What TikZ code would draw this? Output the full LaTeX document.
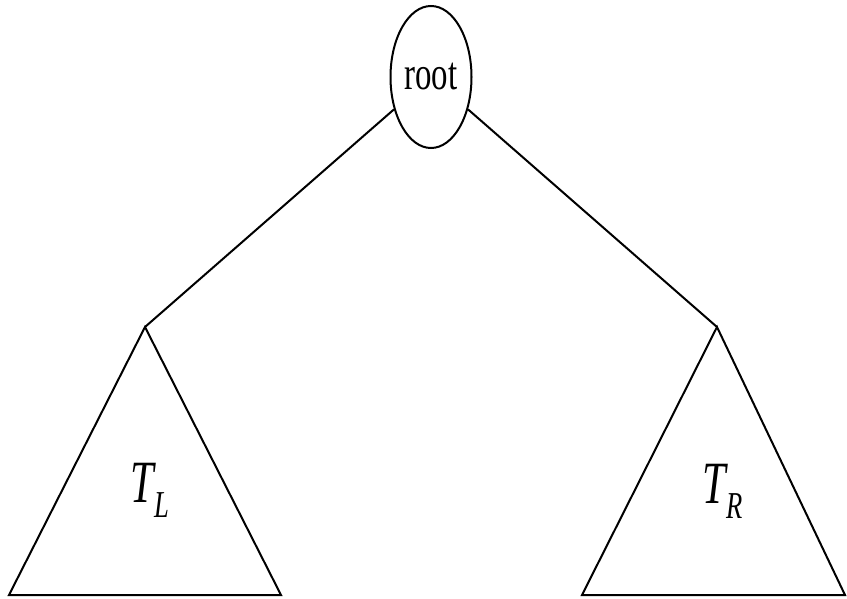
\documentclass[tikz,border=0pt]{standalone}
\usepackage{fontspec}
\setmainfont{Liberation Serif}
\usetikzlibrary{shapes.geometric}
\tikzset{
  edge/.style={line width=2pt, line join=miter},
  rootnode/.style={draw, ellipse, line width=2pt, minimum width=81pt, minimum height=142pt, inner sep=0pt},
  sublabel/.style={inner sep=0pt, anchor=base west}
}
\newcommand{\subT}[1]{\scalebox{0.7}[1]{\fontsize{60}{60}\selectfont\itshape T\kern0.02em\raisebox{-0.26em}{\fontsize{38}{38}\selectfont #1}}}
\begin{document}
\begin{tikzpicture}[x=1pt,y=-1pt]
\useasboundingbox (0,0) rectangle (847,599);
\node[rootnode] (root) at (431,77) {\scalebox{0.7}[1]{\fontsize{47}{47}\selectfont root}};
\coordinate (lA) at (145,327);
\coordinate (lB1) at (9,595);
\coordinate (lB2) at (281,595);
\coordinate (rA) at (717,327);
\coordinate (rB1) at (582,595);
\coordinate (rB2) at (845,595);
\draw[edge] (root) -- (lA);
\draw[edge] (root) -- (rA);
\draw[edge] (lA) -- (lB1) -- (lB2) -- cycle;
\draw[edge] (rA) -- (rB1) -- (rB2) -- cycle;
\node[sublabel] (tl) at (130,502) {\subT{L}};
\node[sublabel] (tr) at (702,503) {\subT{R}};
\end{tikzpicture}
\end{document}
